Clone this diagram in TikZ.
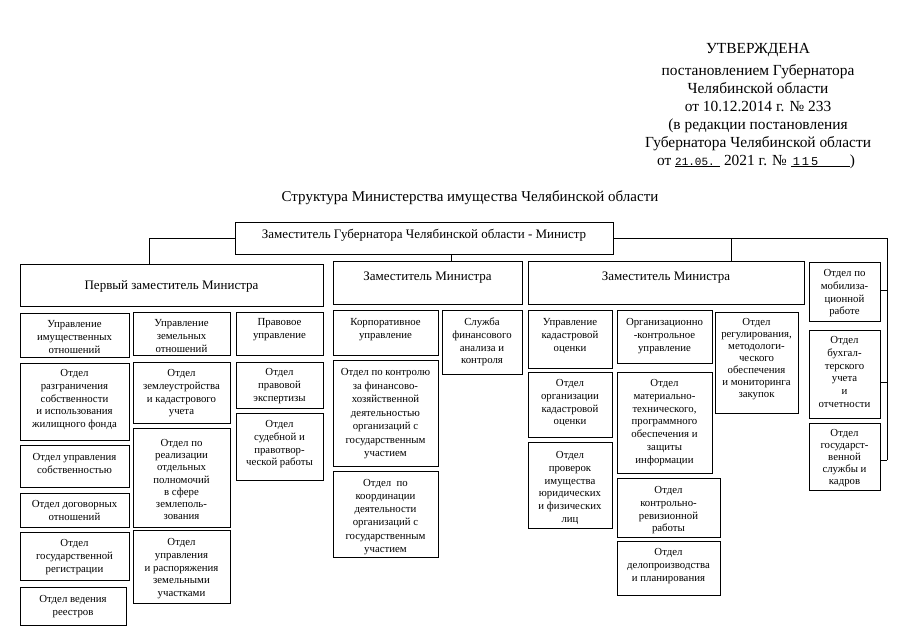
\documentclass[tikz,border=0pt]{standalone}
\usepackage{fontspec}
\setmainfont{Liberation Serif}
\newfontfamily\monofnt{Liberation Mono}
\newdimen\bxw
\newdimen\bxh
\newcommand{\smallfnt}{\fontsize{10.8}{12.8}\selectfont}
\tikzset{
  box/.style={draw=black, line width=0.6pt, inner sep=0pt, outer sep=0pt, anchor=north west},
  conn/.style={draw=black, line width=0.6pt},
  hdr/.style={font=\fontsize{15.4}{18}\selectfont, anchor=base, inner sep=0pt},
}
% name, x1, y1, x2, y2, first baseline, text, font
\newcommand{\bx}[8]{%
  \bxw=\dimexpr #4pt-#2pt\relax
  \bxh=\dimexpr #5pt-#3pt\relax
  \node[box] (#1) at (#2,#3) {\parbox[c][\bxh][t]{\bxw}{\centering#8\rule{0pt}{#6pt}#7\par}};}
\begin{document}
\begin{tikzpicture}[x=1pt,y=-1pt]
\useasboundingbox[fill=white] (0,0) rectangle (905,640);
% header
\node[hdr] (h1) at (758,53) {УТВЕРЖДЕНА};
\node[hdr] (h2) at (758,75) {постановлением Губернатора};
\node[hdr] (h3) at (758,93) {Челябинской области};
\node[hdr] (h4) at (758,111) {от 10.12.2014 г. № 233};
\node[hdr] (h5) at (758,129) {(в редакции постановления};
\node[hdr] (h6) at (758,147) {Губернатора Челябинской области};
\node[hdr] (h7) at (756,165) {от \underline{\makebox[45pt][l]{\monofnt\fontsize{11}{12}\selectfont 21.05.}} 2021 г. № \underline{\makebox[59pt][l]{\hspace{2pt}\monofnt\fontsize{12}{12}\selectfont 1\,1\,5}})};
\node[hdr, font=\fontsize{15}{18}\selectfont] (ttl) at (470,201) {Структура Министерства имущества Челябинской области};
% top level
\bx{top}{235}{222}{613}{254}{16}{Заместитель Губернатора Челябинской области - Министр}{\fontsize{13}{15}\selectfont}
\bx{d1}{20}{264}{323}{306}{25.5}{Первый заместитель Министра}{\fontsize{13}{15}\selectfont}
\bx{d2}{333}{261}{522}{304}{19.5}{Заместитель Министра}{\fontsize{13}{15}\selectfont}
\bx{d3}{528}{261}{804}{304}{19.5}{Заместитель Министра}{\fontsize{13}{15}\selectfont}
% column 1
\bx{b11}{20}{313}{129}{357}{14.5}{Управление\\имущественных\\отношений}{\smallfnt}
\bx{b12}{20}{363}{129}{440}{13.5}{Отдел\\разграничения\\собственности\\и использования\\жилищного фонда}{\smallfnt}
\bx{b13}{20}{445}{129}{487}{15.5}{Отдел управления\\собственностью}{\smallfnt}
\bx{b14}{20}{493}{129}{527}{14.5}{Отдел договорных\\отношений}{\smallfnt}
\bx{b15}{20}{532}{129}{580}{14.5}{Отдел\\государственной\\регистрации}{\smallfnt}
\bx{b16}{20}{587}{126}{625}{15.5}{Отдел ведения\\реестров}{\smallfnt}
% column 2
\bx{b21}{133}{312}{230}{355}{14.5}{Управление\\земельных\\отношений}{\smallfnt}
\bx{b22}{133}{362}{230}{423}{14.5}{Отдел\\землеустройства\\и кадастрового\\учета}{\smallfnt}
\bx{b23}{133}{428}{230}{527}{18.5}{Отдел по\\реализации\\отдельных\\полномочий\\в сфере\\землеполь-\\зования}{\fontsize{10.8}{12.2}\selectfont}
\bx{b24}{133}{530}{230}{603}{15.5}{Отдел\\управления\\и распоряжения\\земельными\\участками}{\smallfnt}
% column 3
\bx{b31}{236}{312}{323}{355}{13.5}{Правовое\\управление}{\smallfnt}
\bx{b32}{236}{362}{323}{408}{13.5}{Отдел\\правовой\\экспертизы}{\smallfnt}
\bx{b33}{236}{413}{323}{480}{14.5}{Отдел\\судебной и\\правотвор-\\ческой работы}{\smallfnt}
% column 4
\bx{b41}{333}{310}{438}{355}{15.5}{Корпоративное\\управление}{\smallfnt}
\bx{b42}{333}{360}{438}{466}{15.5}{Отдел по контролю\\за финансово-\\хозяйственной\\деятельностью\\организаций с\\государственным\\участием}{\fontsize{10.8}{13.5}\selectfont}
\bx{b43}{333}{471}{438}{557}{15}{Отдел\ \ по\\координации\\деятельности\\организаций с\\государственным\\участием}{\fontsize{10.8}{13.3}\selectfont}
% column 5
\bx{b51}{442}{310}{522}{374}{15.5}{Служба\\финансового\\анализа и\\контроля}{\smallfnt}
% column 6
\bx{b61}{528}{310}{612}{368}{15.5}{Управление\\кадастровой\\оценки}{\smallfnt}
\bx{b62}{528}{372}{612}{437}{14.5}{Отдел\\организации\\кадастровой\\оценки}{\smallfnt}
\bx{b63}{528}{442}{612}{528}{16.5}{Отдел\\проверок\\имущества\\юридических\\и физических\\лиц}{\smallfnt}
% column 7
\bx{b71}{617}{310}{712}{363}{15.5}{Организационно\\-контрольное\\управление}{\smallfnt}
\bx{b72}{617}{372}{712}{473}{14.5}{Отдел\\материально-\\технического,\\программного\\обеспечения и\\защиты\\информации}{\smallfnt}
\bx{b73}{617}{478}{720}{537}{15.5}{Отдел\\контрольно-\\ревизионной\\работы}{\smallfnt}
\bx{b74}{617}{541}{720}{595}{14.5}{Отдел\\делопроизводства\\и планирования}{\smallfnt}
% column 8
\bx{b81}{715}{312}{798}{413}{13.5}{Отдел\\регулирования,\\методологи-\\ческого\\обеспечения\\и мониторинга\\закупок}{\fontsize{10.8}{12}\selectfont}
% column 9
\bx{b91}{809}{262}{880}{321}{14.5}{Отдел по\\мобилиза-\\ционной\\работе}{\smallfnt}
\bx{b92}{809}{330}{880}{418}{13.5}{Отдел\\бухгал-\\терского\\учета\\и\\отчетности}{\smallfnt}
\bx{b93}{809}{423}{880}{490}{13.5}{Отдел\\государст-\\венной\\службы и\\кадров}{\fontsize{10.8}{12}\selectfont}
% connectors
\coordinate (k1) at (149,0);
\coordinate (k2) at (451,0);
\coordinate (k3) at (731,0);
\coordinate (sp) at (887,460);
\coordinate (s1) at (887,290);
\coordinate (s2) at (887,382);
\draw[conn] (top.west) -| (k1 |- d1.north);
\draw[conn] (k2 |- top.south) -- (k2 |- d2.north);
\draw[conn] (k3 |- top.east) -- (k3 |- d3.north);
\draw[conn] (top.east) -| (sp);
\draw[conn] (sp) -- (sp -| b93.east);
\draw[conn] (s1) -- (s1 -| b91.east);
\draw[conn] (s2) -- (s2 -| b92.east);
\end{tikzpicture}
\end{document}
